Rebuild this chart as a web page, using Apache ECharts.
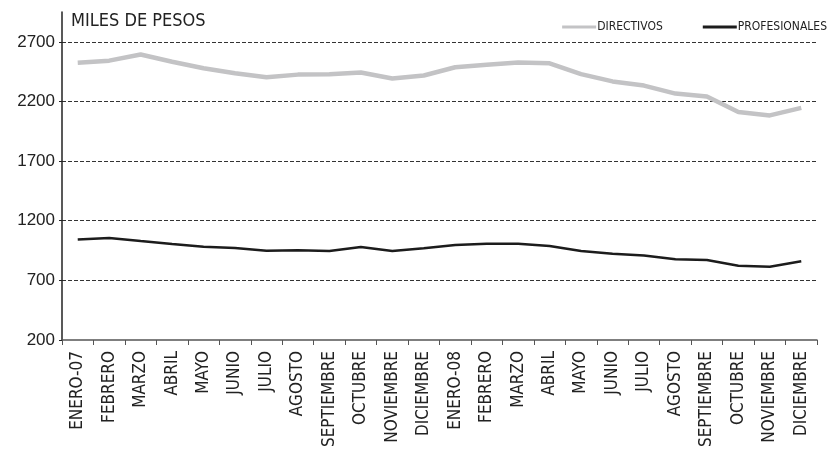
<!DOCTYPE html>
<html>
<head>
<meta charset="utf-8">
<script src="https://cdn.jsdelivr.net/npm/echarts@6/dist/echarts.min.js"></script>
<style>
  html, body { margin: 0; padding: 0; background: #fff; }
  #chart { width: 836px; height: 453px; }
</style>
</head>
<body>
<div id="chart"></div>
<script>
const months = [
    "ENERO-07", "FEBRERO", "MARZO", "ABRIL", "MAYO", "JUNIO", "JULIO", "AGOSTO",
    "SEPTIEMBRE", "OCTUBRE", "NOVIEMBRE", "DICIEMBRE",
    "ENERO-08", "FEBRERO", "MARZO", "ABRIL", "MAYO", "JUNIO", "JULIO", "AGOSTO",
    "SEPTIEMBRE", "OCTUBRE", "NOVIEMBRE", "DICIEMBRE"
];
// category keys must be unique, labels come from months
const categories = months.map((m, i) => i + "");

const directivos = [
    2525, 2542, 2594, 2533, 2478, 2436, 2403, 2425,
    2429, 2443, 2393, 2418,
    2487, 2507, 2526, 2520, 2429, 2368, 2333, 2266,
    2241, 2112, 2083, 2146
];
const profesionales = [
    1042, 1056, 1030, 1005, 982, 971, 949, 953,
    946, 980, 946, 969,
    997, 1006, 1006, 989, 946, 923, 909, 877,
    871, 823, 814, 860
];

const yMin = 200;
const yMax = 2950;
const yStep = 500;

const FONT = "'Liberation Sans Narrow', 'DejaVu Sans Condensed', 'Roboto Condensed', 'Liberation Sans', sans-serif";

const chart = echarts.init(document.getElementById("chart"), null, { renderer: "canvas" });

chart.setOption({
    animation: false,
    backgroundColor: "#fff",
    textStyle: { fontFamily: FONT },
    title: {
        text: "MILES DE PESOS",
        left: 66,
        top: 7,
        textStyle: { fontFamily: FONT, fontSize: 18, fontWeight: "normal", color: "#222" }
    },
    legend: {
        right: 4,
        top: 16,
        icon: "rect",
        itemWidth: 34,
        itemHeight: 3,
        itemGap: 40,
        textStyle: { fontFamily: FONT, fontSize: 12, color: "#222", padding: [0, 0, 0, -4] },
        data: [
            { name: "DIRECTIVOS", itemStyle: { color: "#c3c3c5" } },
            { name: "PROFESIONALES", itemStyle: { color: "#1c1c1c" } }
        ]
    },
    grid: { left: 62, right: 19, top: 12, bottom: 113, containLabel: false },
    xAxis: {
        type: "category",
        data: categories,
        boundaryGap: true,
        axisLine: { lineStyle: { color: "#555", width: 1.5 } },
        axisTick: { show: true, length: 5, interval: 0, lineStyle: { color: "#555", width: 1 } },
        axisLabel: {
            interval: 0,
            rotate: 90,
            margin: 11,
            fontFamily: FONT,
            fontSize: 17,
            color: "#222",
            formatter: (v) => months[+v]
        },
        splitLine: { show: false }
    },
    yAxis: {
        type: "value",
        min: yMin,
        max: yMax,
        interval: yStep,
        axisLine: { show: true, lineStyle: { color: "#222", width: 1.5 } },
        axisTick: { show: true, length: 3, lineStyle: { color: "#222" } },
        axisLabel: {
            fontFamily: "'Liberation Sans', 'Arial', sans-serif",
            fontSize: 17,
            color: "#222",
            margin: 7,
            showMaxLabel: false,
            formatter: (v) => String(v)
        },
        splitLine: {
            show: true,
            showMinLine: false,
            showMaxLine: false,
            lineStyle: { type: [4, 2], color: "#333", width: 1 }
        }
    },
    series: [
        {
            name: "DIRECTIVOS",
            type: "line",
            data: directivos,
            showSymbol: false,
            symbol: "none",
            lineStyle: { color: "#c3c3c5", width: 4.5 },
            itemStyle: { color: "#c3c3c5" },
            z: 3
        },
        {
            name: "PROFESIONALES",
            type: "line",
            data: profesionales,
            showSymbol: false,
            symbol: "none",
            lineStyle: { color: "#1c1c1c", width: 2.5 },
            itemStyle: { color: "#1c1c1c" },
            z: 4
        }
    ]
});
</script>
</body>
</html>
